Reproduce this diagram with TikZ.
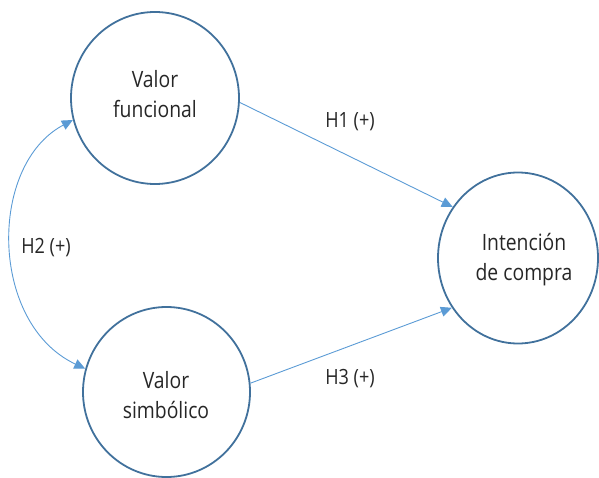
\documentclass[tikz,border=0pt]{standalone}
\usepackage{fontspec}
\setmainfont[FakeStretch=0.86]{Open Sans}
\usetikzlibrary{shapes.geometric,arrows.meta,calc}
\definecolor{circlecol}{HTML}{41719C}
\definecolor{arrowcol}{HTML}{5B9BD5}
\definecolor{txtcol}{HTML}{262626}
\begin{document}
\begin{tikzpicture}[x=1pt,y=-1pt,
  construct/.style={ellipse, draw=circlecol, line width=1.8pt, inner sep=0pt},
  lbl/.style={text=txtcol, font=\fontsize{22.5}{30}\selectfont, align=center},
  hyp/.style={text=txtcol, font=\fontsize{21}{24}\selectfont, anchor=base},
  link/.style={draw=arrowcol, line width=0.9pt, -{Triangle[length=11pt,width=10pt]}},
  dlink/.style={draw=arrowcol, line width=0.9pt, {Triangle[length=11pt,width=10pt]}-{Triangle[length=11pt,width=10pt]}}
]
\useasboundingbox (0,0) rectangle (599,478);
\node[construct, minimum width=168pt, minimum height=172pt] (vf) at (155,98) {};
\node[construct, minimum width=167pt, minimum height=170pt] (vs) at (166.5,392) {};
\node[construct, minimum width=160pt, minimum height=171pt] (ic) at (518,258) {};
\node[lbl] (vft) at (155,94) {Valor\\funcional};
\node[lbl] (vst) at (166,395) {Valor\\simbólico};
\node[lbl] (ict) at (524,260) {Intención\\de compra};
\draw[link] (vf.-3) -- (ic.142);
\draw[link] (vs.6) -- (ic.217);
\draw[dlink] (vf.195) .. controls ($(vf.195)+(-85,45)$) and ($(vs.164)+(-96,-45)$) .. (vs.164);
\node[hyp] (h1) at (350,128) {H1 (+)};
\node[hyp] (h2) at (46,254) {H2 (+)};
\node[hyp] (h3) at (350,384) {H3 (+)};
\end{tikzpicture}
\end{document}
